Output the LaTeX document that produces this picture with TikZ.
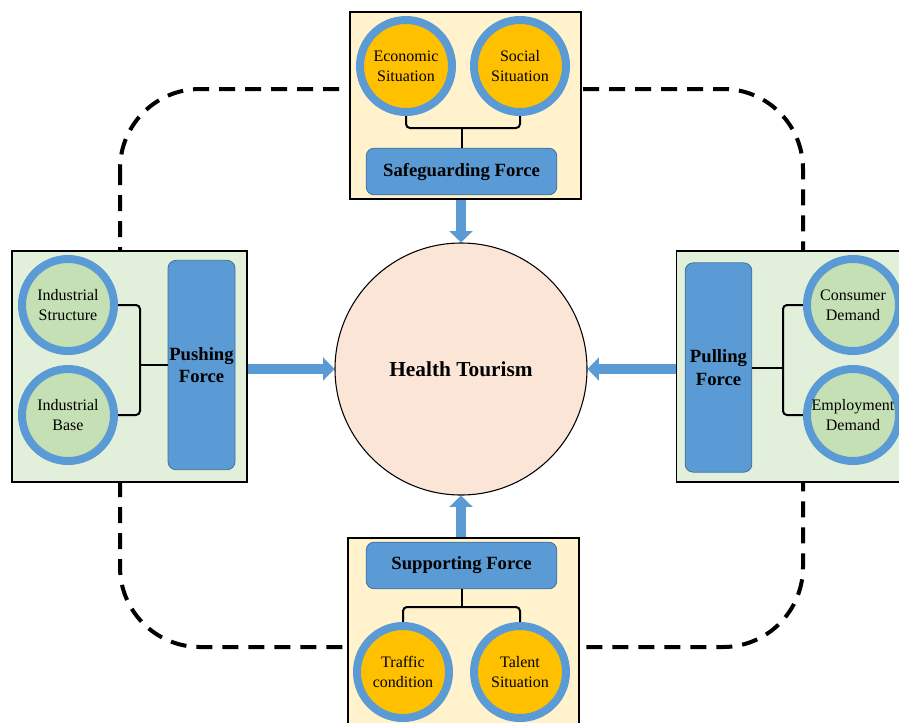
\documentclass[tikz,border=0pt]{standalone}
\usepackage{fontspec}
\setmainfont{Liberation Serif}
\usetikzlibrary{arrows.meta,positioning}
\definecolor{cream}{HTML}{FFF2CC}
\definecolor{mint}{HTML}{E2EFDA}
\definecolor{gold}{HTML}{FFC000}
\definecolor{sage}{HTML}{C5E0B4}
\definecolor{ringblue}{HTML}{5B9BD5}
\definecolor{edgeblue}{HTML}{41719C}
\definecolor{peach}{HTML}{FBE5D6}
\tikzset{
	panel/.style={rectangle,
		draw=black,
		line width=1.2pt,
		},
	factor/.style={circle,
		draw=ringblue,
		line width=6pt,
		minimum size=69pt,
		inner sep=0pt,
		align=center,
		font=\fontsize{12}{15}\selectfont,
		},
	force/.style={rectangle,
		draw=edgeblue,
		fill=ringblue,
		rounded corners=6pt,
		line width=0.6pt,
		inner xsep=1pt,
		align=center,
		font=\fontsize{14}{17}\selectfont\bfseries,
		},
	core/.style={circle,
		draw=black,
		fill=peach,
		line width=0.8pt,
		minimum size=189pt,
		font=\fontsize{16}{19}\selectfont\bfseries,
		},
	brace/.style={draw, line width=1.5pt, rounded corners=3pt},
	flow/.style={draw=ringblue, line width=7.5pt,
		-{Triangle[width=17pt,length=8.5pt]}},
	cycleline/.style={draw, line width=3pt, dash pattern=on 12pt off 7.5pt,
		rounded corners=60pt}
}
\begin{document}
\begin{tikzpicture}[x=0.75pt, y=-0.75pt]
   \useasboundingbox (0,0) rectangle (899,722);
   \clip (0,0) rectangle (899,722);

   \draw[cycleline] (120,89) rectangle (803,647);

   % the four panels
   \node[panel, fill=cream, minimum width=173pt, minimum height=140pt] (safepanel) at (465.5,105.5) {};
   \node[panel, fill=mint, minimum width=176pt, minimum height=173pt] (pushpanel) at (129.5,366.5) {};
   \node[panel, fill=mint, minimum width=176pt, minimum height=173pt] (pullpanel) at (794,366.5) {};
   \node[panel, fill=cream, minimum width=173pt, minimum height=140pt] (supportpanel) at (463.5,631.5) {};

   \node[force, minimum width=143pt, minimum height=35pt] (safe) at (461.5,171.5) {Safeguarding Force};
   \node[force, minimum width=143pt, minimum height=35pt] (support) at (461.5,565.5) {Supporting Force};
   \node[force, minimum width=50pt, minimum height=157pt] (push) at (201.5,365) {Pushing\\Force};
   \node[force, minimum width=50pt, minimum height=157pt] (pull) at (718.5,367.5) {Pulling\\Force};

   \path (406,66) coordinate (econpos) (520,66) coordinate (socialpos);

   % brackets
   \draw[brace] (406,112) -- ++(0,16) -| (520,112);
   \draw[brace] (safe.north) -- ++(0,-20);
   \draw[brace] (114,305) -- ++(26,0) |- (114,415);
   \draw[brace] (push.west) -- ++(-28,0);
   \draw[brace] (807,305) -- ++(-24,0) |- (807,415);
   \draw[brace] (pull.east) -- ++(31,0);
   \draw[brace] (403,626) -- ++(0,-19) -| (520,626);
   \draw[brace] (support.south) -- ++(0,18);

   \node[factor, fill=gold] (econ) at (econpos) {Economic\\Situation};
   \node[factor, fill=gold] (social) at (socialpos) {Social\\Situation};
   \node[factor, fill=sage] (istruct) at (68,305) {Industrial\\Structure};
   \node[factor, fill=sage] (ibase) at (68,415) {Industrial\\Base};
   \node[factor, fill=sage] (consumer) at (853,305) {Consumer\\Demand};
   \node[factor, fill=sage] (employ) at (853,415) {Employment\\Demand};
   \node[factor, fill=gold] (traffic) at (403,672) {Traffic\\condition};
   \node[factor, fill=gold] (talent) at (520,672) {Talent\\Situation};

   \node[core] (tourism) at (461,369) {Health Tourism};

   \draw[flow] (tourism.north |- safepanel.south) -- (tourism.north);
   \draw[flow] (pushpanel.east |- tourism.west) -- (tourism.west);
   \draw[flow] (pullpanel.west |- tourism.east) -- (tourism.east);
   \draw[flow] (tourism.south |- supportpanel.north) -- (tourism.south);
\end{tikzpicture}
\end{document}
